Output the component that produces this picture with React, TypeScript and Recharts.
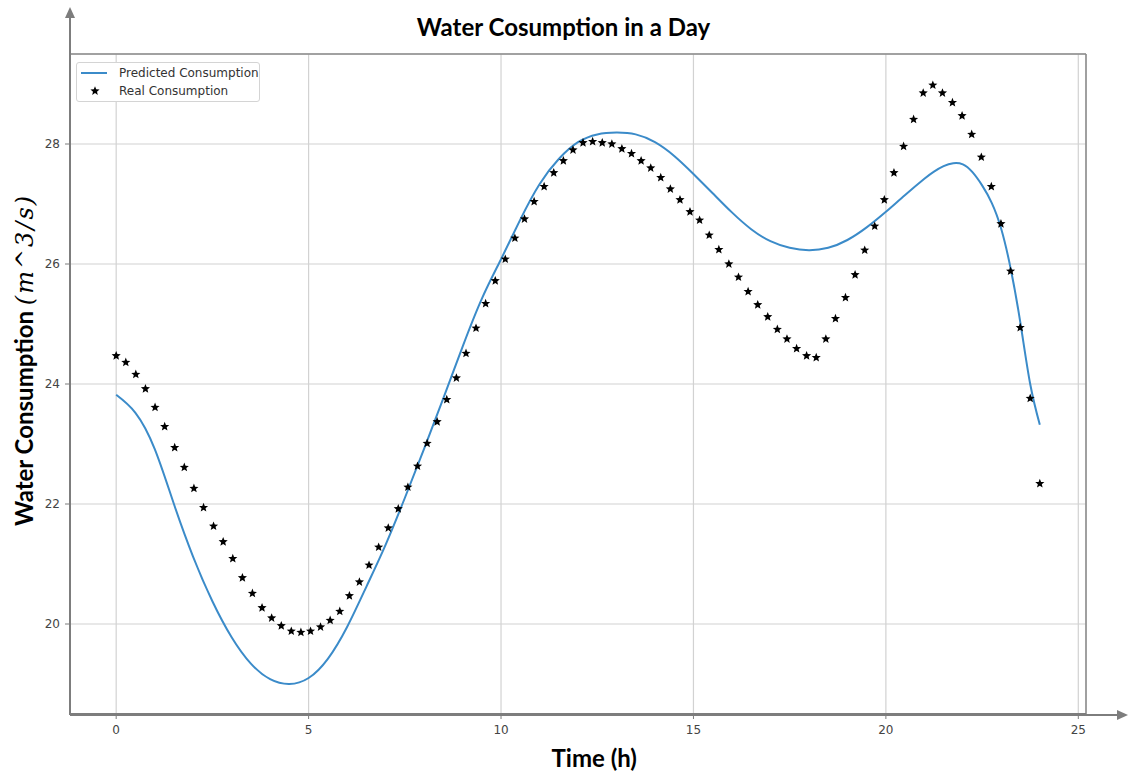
import {
  ComposedChart,
  Line,
  Scatter,
  XAxis,
  YAxis,
  CartesianGrid,
  ReferenceLine,
  Legend,
} from "recharts";

// real consumption samples (96 points over 0..24 h)
const realTime = [
  0, 0.25, 0.51, 0.76, 1.01, 1.26, 1.52, 1.77, 2.02, 2.27, 2.53, 2.78,
  3.03, 3.28, 3.54, 3.79, 4.04, 4.29, 4.55, 4.8, 5.05, 5.31, 5.56, 5.81,
  6.06, 6.32, 6.57, 6.82, 7.07, 7.33, 7.58, 7.83, 8.08, 8.34, 8.59, 8.84,
  9.09, 9.35, 9.6, 9.85, 10.11, 10.36, 10.61, 10.86, 11.12, 11.37, 11.62, 11.87,
  12.13, 12.38, 12.63, 12.88, 13.14, 13.39, 13.64, 13.89, 14.15, 14.4, 14.65, 14.91,
  15.16, 15.41, 15.66, 15.92, 16.17, 16.42, 16.67, 16.93, 17.18, 17.43, 17.68, 17.94,
  18.19, 18.44, 18.69, 18.95, 19.2, 19.45, 19.71, 19.96, 20.21, 20.46, 20.72, 20.97,
  21.22, 21.47, 21.73, 21.98, 22.23, 22.48, 22.74, 22.99, 23.24, 23.49, 23.75, 24,
];

const realConsumption = [
  24.47, 24.36, 24.16, 23.92, 23.61, 23.29, 22.94, 22.61, 22.26, 21.94, 21.63, 21.37,
  21.09, 20.77, 20.51, 20.27, 20.1, 19.97, 19.88, 19.86, 19.88, 19.95, 20.06, 20.21,
  20.47, 20.7, 20.98, 21.28, 21.6, 21.92, 22.28, 22.63, 23.01, 23.37, 23.74, 24.1,
  24.51, 24.93, 25.34, 25.72, 26.08, 26.43, 26.75, 27.04, 27.29, 27.52, 27.72, 27.9,
  28.02, 28.04, 28.02, 28.0, 27.92, 27.84, 27.72, 27.6, 27.44, 27.25, 27.07, 26.87,
  26.73, 26.48, 26.24, 26.0, 25.78, 25.54, 25.32, 25.12, 24.91, 24.75, 24.59, 24.47,
  24.44, 24.75, 25.09, 25.44, 25.82, 26.23, 26.63, 27.07, 27.52, 27.96, 28.41, 28.85,
  28.98, 28.85, 28.69, 28.47, 28.16, 27.78, 27.29, 26.67, 25.88, 24.94, 23.76, 22.34,
];

const predictedTime = [
  0, 0.5, 1, 1.5, 2, 2.5, 3, 3.5, 4, 4.5, 5, 5.5, 6, 6.5, 7, 7.5, 8, 8.5, 9, 9.5,
  10, 10.5, 11, 11.5, 12, 12.5, 13, 13.5, 14, 14.5, 15, 15.5, 16, 16.5, 17, 17.5,
  18, 18.5, 19, 19.5, 20, 20.5, 21, 21.25, 21.5, 21.75, 22, 22.25, 22.5, 22.75,
  23, 23.25, 23.5, 23.75, 24,
];

const predictedConsumption = [
  23.82, 23.52, 22.92, 22.0, 21.12, 20.38, 19.78, 19.34, 19.08, 19.0, 19.1, 19.42,
  19.95, 20.62, 21.32, 22.1, 22.92, 23.76, 24.62, 25.42, 26.08, 26.74, 27.33, 27.75,
  28.03, 28.16, 28.19, 28.16, 28.03, 27.8, 27.5, 27.18, 26.86, 26.58, 26.38, 26.27,
  26.23, 26.27, 26.4, 26.61, 26.87, 27.15, 27.42, 27.54, 27.63, 27.68, 27.66, 27.53,
  27.31, 27.02, 26.58, 25.9, 25.0, 24.0, 23.32,
];

const xTicks = [0, 5, 10, 15, 20, 25];
const yTicks = [20, 22, 24, 26, 28];

const realData = realTime.map((t, i) => ({ t, real: realConsumption[i] }));
const predictedData = predictedTime.map((t, i) => ({ t, predicted: predictedConsumption[i] }));

const BLUE = "#3b8bc9";
const AXIS = "#7d7d7d";
const tickStyle = { fill: "#444", fontSize: 12, fontFamily: "DejaVu Sans" };

function starPoints(cx: number, cy: number, outer: number, inner: number) {
  const pts: string[] = [];
  for (let k = 0; k < 10; k++) {
    const r = k % 2 === 0 ? outer : inner;
    const a = -Math.PI / 2 + (k * Math.PI) / 5;
    pts.push(`${cx + r * Math.cos(a)},${cy + r * Math.sin(a)}`);
  }
  return pts.join(" ");
}

function Star(props: any) {
  const { cx, cy } = props;
  if (cx == null || cy == null) return null;
  return <polygon points={starPoints(cx, cy, 4.8, 2.1)} fill="#000" />;
}

function LegendBox() {
  const row = { display: "flex", alignItems: "center", height: 18 };
  return (
    <div
      style={{
        border: "1px solid #d4d4d4",
        borderRadius: 3,
        background: "#fff",
        padding: "1px 0",
        width: 182,
        fontFamily: "DejaVu Sans",
        fontSize: 12,
        color: "#333",
        lineHeight: "18px",
      }}
    >
      <div style={row}>
        <svg width={34} height={18} style={{ marginLeft: 3, marginRight: 5 }}>
          <line x1={1} y1={9} x2={27} y2={9} stroke={BLUE} strokeWidth={2} />
        </svg>
        <span>Predicted Consumption</span>
      </div>
      <div style={row}>
        <svg width={34} height={18} style={{ marginLeft: 3, marginRight: 5 }}>
          <polygon points={starPoints(15, 9, 4.8, 2.1)} fill="#000" />
        </svg>
        <span>Real Consumption</span>
      </div>
    </div>
  );
}

export default function App() {
  return (
    <div
      style={{
        position: "absolute",
        left: 0,
        top: 0,
        width: 1129,
        height: 776,
        background: "#fff",
      }}
    >
      <ComposedChart
        width={1129}
        height={776}
        margin={{ top: 54, right: 43, bottom: 32, left: 10 }}
      >
        <CartesianGrid stroke="#d2d2d2" strokeWidth={1.2} />
        <XAxis
          dataKey="t"
          type="number"
          domain={[-1.2, 25.2]}
          ticks={xTicks}
          allowDataOverflow
          height={30}
          axisLine={{ stroke: AXIS, strokeWidth: 2 }}
          tickLine={{ stroke: AXIS }}
          tickSize={5}
          tickMargin={6}
          tick={tickStyle}
          label={{
            content: ({ viewBox }: any) => (
              <text
                x={viewBox.x + viewBox.width * 0.516}
                y={viewBox.y + 53}
                textAnchor="middle"
                fontFamily="Lato"
                fontWeight={700}
                fontSize={24}
                fill="#000"
              >
                Time (h)
              </text>
            ),
          }}
        />
        <YAxis
          type="number"
          domain={[18.5, 29.5]}
          ticks={yTicks}
          allowDataOverflow
          width={60}
          axisLine={{ stroke: AXIS, strokeWidth: 2 }}
          tickLine={{ stroke: AXIS }}
          tickSize={5}
          tickMargin={5}
          tick={tickStyle}
          label={{
            content: ({ viewBox }: any) => {
              const x = viewBox.x + 22.5;
              const y = 360;
              return (
                <text
                  x={x}
                  y={y}
                  transform={`rotate(-90, ${x}, ${y})`}
                  textAnchor="middle"
                  fill="#000"
                >
                  <tspan fontFamily="Lato" fontWeight={700} fontSize={24}>
                    {"Water Consumption "}
                  </tspan>
                  <tspan
                    fontFamily="DejaVu Serif"
                    fontStyle="italic"
                    fontSize={24}
                    letterSpacing={2}
                  >
                    (m^3/s)
                  </tspan>
                </text>
              );
            },
          }}
        />
        <ReferenceLine x={25.2} stroke="#8a8a8a" strokeWidth={1.5} />
        <ReferenceLine y={29.5} stroke="#8a8a8a" strokeWidth={1.5} />
        <Line
          data={predictedData}
          dataKey="predicted"
          type="natural"
          stroke={BLUE}
          strokeWidth={2}
          dot={false}
          isAnimationActive={false}
          name="Predicted Consumption"
        />
        <Scatter
          data={realData}
          dataKey="real"
          shape={<Star />}
          isAnimationActive={false}
          name="Real Consumption"
        />
        <Legend
          layout="vertical"
          align="center"
          verticalAlign="middle"
          wrapperStyle={{ left: 76, top: 62, width: 184 }}
          content={() => <LegendBox />}
        />
      </ComposedChart>
      <svg
        width={1129}
        height={776}
        style={{ position: "absolute", left: 0, top: 0, pointerEvents: "none" }}
      >
        <text
          x={563.5}
          y={36}
          textAnchor="middle"
          fontFamily="Lato"
          fontWeight={700}
          fontSize={24}
          fill="#000"
        >
          Water Cosumption in a Day
        </text>
        <line x1={70} y1={715} x2={70} y2={16} stroke={AXIS} strokeWidth={2} />
        <polygon points="65,18 75,18 70,7" fill={AXIS} />
        <line x1={70} y1={715} x2={1118} y2={715} stroke={AXIS} strokeWidth={2} />
        <polygon points="1117,710 1117,720 1128,715" fill={AXIS} />
      </svg>
    </div>
  );
}
